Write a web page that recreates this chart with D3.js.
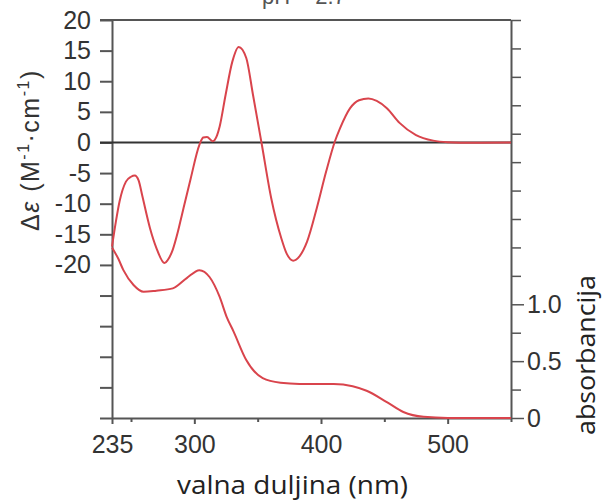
<!DOCTYPE html>
<html lang="en">
<head>
<meta charset="UTF-8">
<title>CD i apsorpcijski spektar</title>
<script src="https://d3js.org/d3.v7.min.js"></script>
<style>
  body { margin: 0; background: #fff; }
  .axis path, .axis line { stroke: #555; stroke-width: 2; }
  .axis text { font-family: "Liberation Sans", Arial, sans-serif; font-size: 25px; fill: #333; }
  .curve { fill: none; stroke: #d9444c; stroke-width: 2; }
</style>
</head>
<body>
<script>
// CD spektar (lijeva os)
const cdNm  = [235, 238, 241, 246, 250, 253, 256, 259, 265, 270, 276.5, 279, 283, 287, 290, 297, 304, 307, 310, 314.5, 318, 320, 324.7, 330, 335, 341, 346.3, 353, 360.7, 368.6, 373, 378, 383, 389, 396.7, 404, 411, 415, 423, 430, 437.4, 444, 452, 462, 475, 488.6, 500, 520, 550];
const cdVal = [-17, -13, -9.6, -6.4, -5.6, -5.4, -6.2, -8.8, -14, -17.2, -19.7, -19.2, -17.5, -14.6, -12, -6, -0.4, 0.8, 0.9, 0.2, 1.2, 2.6, 7.8, 13.2, 15.6, 13.8, 7.8, 0, -9.1, -15.6, -18.2, -19.3, -18.6, -16.2, -10.7, -4.8, 0.2, 2.3, 5.6, 6.9, 7.2, 6.8, 5.6, 3.2, 1.2, 0.3, 0.05, -0.05, 0];
// apsorbancija (desna os)
const absNm  = [235, 240, 244, 252, 260, 270, 283, 294, 304, 312, 320, 325.5, 331, 341, 354, 368, 383, 410, 425, 436, 452, 465, 481, 500, 550];
const absVal = [1.50, 1.40, 1.30, 1.17, 1.11, 1.12, 1.14, 1.23, 1.30, 1.24, 1.065, 0.89, 0.76, 0.51, 0.35, 0.31, 0.30, 0.30, 0.28, 0.24, 0.14, 0.053, 0.01, 0, 0];

const xTicks = [235, 250, 300, 350, 400, 450, 500, 550];
const xLabels = [235, 300, 400, 500];
const leftTicks = d3.range(-45, 21, 5);
const leftLabels = [20, 15, 10, 5, 0, -5, -10, -15, -20];
const rightTicks = d3.range(0, 3.51, 0.25);
const rightLabels = [0, 0.5, 1.0];

const W = 603, H = 502;
const m = { left: 112, right: 511, top: 20, bottom: 418 };

const svg = d3.select("body").append("svg").attr("width", W).attr("height", H);

const x = d3.scaleLinear().domain([235, 550]).range([m.left, m.right]);
const yL = d3.scaleLinear().domain([-45, 20]).range([m.bottom, m.top]);
const yR = d3.scaleLinear().domain([0, 3.5]).range([m.bottom, m.top]);

// x os
const gx = svg.append("g").attr("class", "axis")
  .attr("transform", `translate(0,${m.bottom})`)
  .call(d3.axisBottom(x).tickValues(xTicks).tickSizeOuter(0)
    .tickFormat(d => xLabels.includes(d) ? d : ""));
gx.selectAll(".tick line").attr("y2", d => xLabels.includes(d) ? 6 : 4);
gx.selectAll(".tick text").attr("y", 17).attr("dy", "0.71em");

// lijeva os
const gl = svg.append("g").attr("class", "axis")
  .attr("transform", `translate(${m.left},0)`)
  .call(d3.axisLeft(yL).tickValues(leftTicks).tickSize(12).tickSizeOuter(0).tickPadding(9)
    .tickFormat(d => leftLabels.includes(d) ? d : ""));

// desna os
const gr = svg.append("g").attr("class", "axis")
  .attr("transform", `translate(${m.right},0)`)
  .call(d3.axisRight(yR).tickValues(rightTicks).tickSizeOuter(0)
    .tickFormat(d => rightLabels.includes(d) ? (d === 0 ? "0" : d3.format(".1f")(d)) : ""));
gr.selectAll(".tick line").attr("x2", d => rightLabels.includes(d) ? 13 : 10).style("stroke-width", 1.5);
gr.selectAll(".tick text").attr("x", 16);

// gornji rub i nulta linija
svg.append("line").attr("x1", 100).attr("x2", m.right).attr("y1", yL(20)).attr("y2", yL(20))
  .attr("stroke", "#555").attr("stroke-width", 2);
svg.append("line").attr("x1", 100).attr("x2", m.right).attr("y1", yL(0)).attr("y2", yL(0))
  .attr("stroke", "#333").attr("stroke-width", 2);

// krivulje
const lineCd = d3.line().x((d, i) => x(cdNm[i])).y(d => yL(d)).curve(d3.curveMonotoneX);
const lineAbs = d3.line().x((d, i) => x(absNm[i])).y(d => yR(d)).curve(d3.curveMonotoneX);
svg.append("path").attr("class", "curve").attr("d", lineCd(cdVal));
svg.append("path").attr("class", "curve").attr("d", lineAbs(absVal));

// natpisi
svg.append("text").attr("x", 177).attr("y", 494)
  .attr("font-family", "'Open Sans', sans-serif").attr("font-size", 26).attr("fill", "#222")
  .attr("textLength", 231).attr("lengthAdjust", "spacingAndGlyphs")
  .text("valna duljina (nm)");

svg.append("text").attr("transform", "translate(595,435) rotate(-90)")
  .attr("font-family", "'Open Sans', sans-serif").attr("font-size", 26).attr("fill", "#222")
  .attr("textLength", 160).attr("lengthAdjust", "spacingAndGlyphs")
  .text("absorbancija");

const yl = svg.append("text").attr("transform", "translate(39,231) rotate(-90)")
  .attr("font-family", "'Liberation Sans', Arial, sans-serif").attr("font-size", 25).attr("fill", "#333")
  .attr("letter-spacing", 1.5);
yl.append("tspan").text("Δ");
yl.append("tspan").attr("font-style", "italic").text("ε");
yl.append("tspan").text(" (M");
yl.append("tspan").attr("font-size", 16).attr("dy", -10).text("-1");
yl.append("tspan").attr("dy", 10).text("·cm");
yl.append("tspan").attr("font-size", 16).attr("dy", -10).text("-1");
yl.append("tspan").attr("dy", 10).text(")");

svg.append("text").attr("x", 262).attr("y", 4)
  .attr("font-family", "'Liberation Sans', Arial, sans-serif").attr("font-size", 22).attr("fill", "#555")
  .text("pH = 2.7");
</script>
</body>
</html>
